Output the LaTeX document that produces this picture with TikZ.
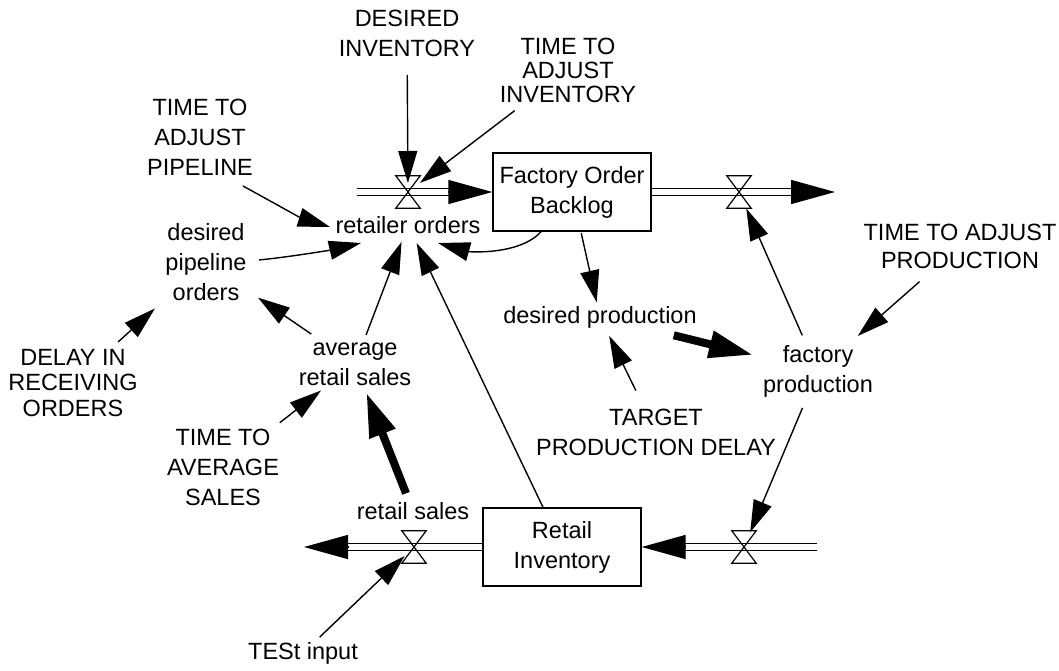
\documentclass[tikz,border=0pt]{standalone}
\usepackage{fontspec}
\setmainfont{Liberation Sans}
\usetikzlibrary{arrows.meta,calc}

\begin{document}
\begin{tikzpicture}[x=1pt,y=-1pt,
  lbl/.style={inner sep=0pt, align=center, font=\fontsize{23.5}{30}\selectfont},
  stock/.style={draw, line width=1.4pt, minimum width=158pt, minimum height=78pt,
    inner sep=0pt, align=center, font=\fontsize{23.5}{30}\selectfont},
  valve/.style={inner sep=0pt, minimum width=24pt, minimum height=32pt},
  arr/.style={line width=1.4pt, -{Triangle[length=32pt,width=19pt]}},
  heavyarr/.style={line width=8pt, -{Triangle[length=44pt,width=26pt]}},
  pipe/.style={line width=1.4pt, double, double distance=6pt},
  flowtip/.style={line width=1.4pt, -{Triangle[length=44pt,width=24pt]}},
]
\fill[white] (0,0) rectangle (1059,671);
\useasboundingbox (0,0) rectangle (1059,671);

% auxiliaries and stocks
\node[lbl] (DI) at (407,33) {DESIRED\\INVENTORY};
\node[lbl, font=\fontsize{23.5}{24}\selectfont] (TAI) at (568,70) {TIME TO\\ADJUST\\INVENTORY};
\node[lbl] (TAP) at (200,137) {TIME TO\\ADJUST\\PIPELINE};
\node[lbl] (DPO) at (206,262) {desired\\pipeline\\orders};
\node[lbl, font=\fontsize{23.5}{25.5}\selectfont] (DRO) at (73,383) {DELAY IN\\RECEIVING\\ORDERS};
\node[lbl] (TAS) at (223,467) {TIME TO\\AVERAGE\\SALES};
\node[lbl] (ARS) at (355,364) {average\\retail sales};
\node[lbl] (RO) at (408,225) {retailer orders};
\node[stock] (FOB) at (572,192) {Factory Order\\Backlog};
\node[lbl] (DP) at (600,317) {desired production};
\node[lbl] (FP) at (818,371) {factory\\production};
\node[lbl, font=\fontsize{23.5}{28}\selectfont] (TAPR) at (960,246) {TIME TO ADJUST\\PRODUCTION};
\node[lbl] (TPD) at (656,432) {TARGET\\PRODUCTION DELAY};
\node[stock] (RI) at (562,547) {Retail\\Inventory};
\node[lbl] (RS) at (413,511) {retail sales};
\node[lbl] (TI) at (303,653) {TESt input};

% valves on the flows
\node[valve] (v1) at (408,192) {};
\node[valve] (v2) at (739,192) {};
\node[valve] (v3) at (414,547) {};
\node[valve] (v4) at (744,547) {};

% open ends of the flow pipes
\coordinate (srcA) at (357,192);
\coordinate (sinkA) at (835,192);
\coordinate (srcB) at (817,547);
\coordinate (sinkB) at (304,547);

% flow pipes
\draw[pipe, shorten >=40pt] (srcA) -- (FOB.west);
\draw[flowtip] ($(FOB.west)+(-44,0)$) -- (FOB.west);
\draw[pipe, shorten >=40pt] (FOB.east) -- (sinkA);
\draw[flowtip] ($(sinkA)+(-44,0)$) -- (sinkA);
\draw[pipe, shorten >=40pt] (srcB) -- (RI.east);
\draw[flowtip] ($(RI.east)+(44,0)$) -- (RI.east);
\draw[pipe, shorten >=40pt] (RI.west) -- (sinkB);
\draw[flowtip] ($(sinkB)+(44,0)$) -- (sinkB);

\foreach \v in {v1,v2,v3,v4}
  \draw[line width=1.2pt, line join=miter]
    (\v.north west) -- (\v.north east) -- (\v.south west) -- (\v.south east) -- cycle;

% causal links
\draw[arr, shorten <=42pt, shorten >=9pt] (DI.center) -- (v1.center);
\draw[arr, shorten <=67pt, shorten >=15pt] (TAI.center) -- (v1.center);
\draw[arr] ($(TAP.center)+(43,49)$) .. controls (263,197) and (300,217.5) .. ($(RO.center)+(-78,2)$);
\draw[arr] ($(DPO.center)+(53,-2)$) .. controls (289,257) and (331,250) .. ($(RO.center)+(-47,18)$);
\draw[arr, shorten <=31pt, shorten >=18pt] (ARS.center) -- (RO.center);
\draw[arr, shorten <=43pt, shorten >=20pt] (RI.center) -- (RO.center);
\draw[arr] ($(FOB.south)+(-31,0)$) .. controls (520,255) and (470,252) .. ($(RO.center)+(30,18)$);
\draw[arr, shorten <=53pt, shorten >=63pt] (ARS.center) -- (DPO.center);
\draw[arr, shorten <=61pt, shorten >=69pt] (DRO.center) -- (DPO.center);
\draw[arr, shorten <=72pt, shorten >=43pt] (TAS.center) -- (ARS.center);
\draw[heavyarr, shorten <=19pt, shorten >=31pt] (RS.center) -- (ARS.center);
\draw[arr, shorten <=42pt, shorten >=15pt] (FOB.center) -- (DP.center);
\draw[arr, shorten <=46pt, shorten >=21pt] (TPD.center) -- (DP.center);
\draw[heavyarr, shorten <=76pt, shorten >=67pt] (DP.center) -- (FP.center);
\draw[arr, shorten <=39pt, shorten >=18pt] (FP.center) -- (v2.center);
\draw[arr, shorten <=54pt, shorten >=53pt] (TAPR.center) -- (FP.center);
\draw[arr, shorten <=40pt, shorten >=16pt] (FP.center) -- (v4.center);
\draw[arr, shorten <=23pt, shorten >=13pt] (TI.center) -- (v3.center);
\end{tikzpicture}
\end{document}
